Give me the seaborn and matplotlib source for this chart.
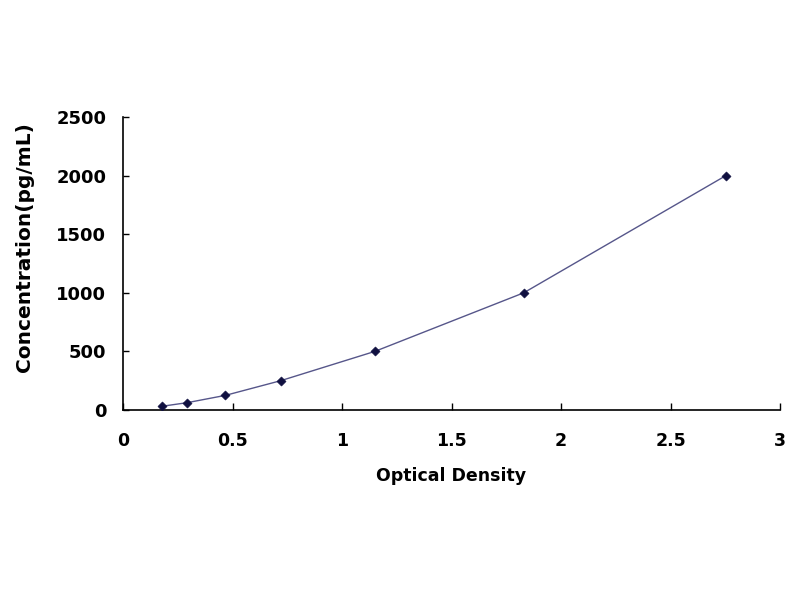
import matplotlib
matplotlib.use("Agg")
import matplotlib.pyplot as plt
import numpy as np
import pandas as pd
import seaborn as sns

# standard curve values
optical_density = [0.176, 0.293, 0.468, 0.72, 1.15, 1.83, 2.753]
concentration = [31.25, 62.5, 125, 250, 500, 1000, 2000]
x_ticks = [0, 0.5, 1, 1.5, 2, 2.5, 3]
y_ticks = [0, 500, 1000, 1500, 2000, 2500]

sns.set_theme(style="white")
plt.rcParams['font.family'] = ['DejaVu Sans']

df = pd.DataFrame({"od": optical_density, "conc": concentration})

fig = plt.figure(figsize=(8, 6), dpi=100)
ax = fig.add_axes([123 / 800, 1 - 410 / 600, 657 / 800, 293 / 600])

sns.lineplot(data=df, x="od", y="conc", ax=ax, color="#56568a", linewidth=1.0)
sns.scatterplot(data=df, x="od", y="conc", ax=ax, color="#101040", marker="D",
                s=22, edgecolor="#101040", zorder=3)

ax.set_xlim(0, 3)
ax.set_ylim(0, 2500)
ax.set_xticks(x_ticks)
ax.set_xticklabels([f"{t:g}" for t in x_ticks])
ax.set_yticks(y_ticks)
ax.set_yticklabels([str(t) for t in y_ticks])

for side in ["top", "right"]:
    ax.spines[side].set_visible(False)
for side in ["left", "bottom"]:
    ax.spines[side].set_color("black")
    ax.spines[side].set_linewidth(1.2)

ax.tick_params(axis="x", direction="in", length=5, width=1, color="black",
               pad=16, labelsize=12.5)
ax.tick_params(axis="y", direction="in", length=4, width=1, color="black",
               pad=12, labelsize=13)
ax.tick_params(left=True, bottom=True)
for lbl in ax.get_xticklabels() + ax.get_yticklabels():
    lbl.set_fontweight("bold")
    lbl.set_color("black")

ax.set_xlabel("Optical Density", fontsize=12.5, fontweight="bold", color="black")
ax.set_ylabel("Concentration(pg/mL)", fontsize=14.5, fontweight="bold", color="black")
ax.xaxis.set_label_coords(0.5, -57 / 293, transform=ax.transAxes)
ax.yaxis.set_label_coords(-89 / 657, 0.555, transform=ax.transAxes)

fig.savefig("out.png", dpi=100, facecolor="white")
